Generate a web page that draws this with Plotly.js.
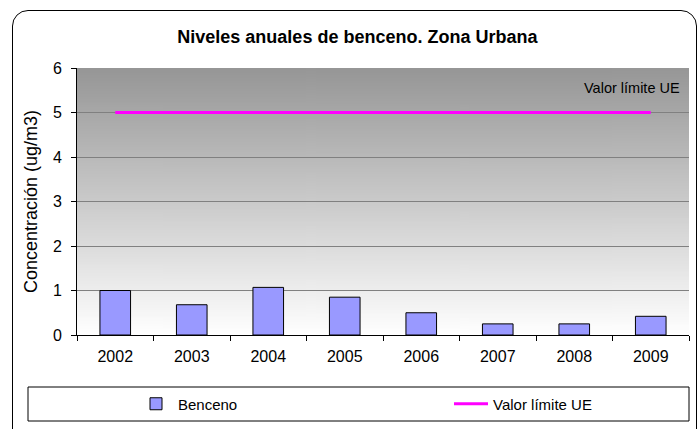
<!DOCTYPE html>
<html>
<head>
<meta charset="utf-8">
<script src="https://cdn.plot.ly/plotly-3.0.1.min.js"></script>
<style>
  html, body { margin: 0; padding: 0; background: #ffffff; }
  #wrap { position: relative; width: 698px; height: 429px; overflow: hidden; }
  #chart { position: absolute; left: 0; top: 0; width: 698px; height: 429px; }
  #frame { position: absolute; left: 12px; top: 10px; width: 685px; height: 440px;
           box-sizing: border-box; border: 1px solid #000; border-radius: 16px;
           pointer-events: none; }
</style>
</head>
<body>
<div id="wrap">
  <div id="chart"></div>
  <div id="frame"></div>
</div>
<script>
const years = ['2002', '2003', '2004', '2005', '2006', '2007', '2008', '2009'];
const benceno = [1.0, 0.68, 1.07, 0.85, 0.5, 0.25, 0.25, 0.42];
const limiteUE = [5, 5, 5, 5, 5, 5, 5, 5];
const seriesNames = ['Benceno', 'Valor límite UE'];
const titleText = 'Niveles anuales de benceno. Zona Urbana';
const yTitle = 'Concentración (ug/m3)';

// gradient background image for the plot area
const cv = document.createElement('canvas');
cv.width = 4; cv.height = 200;
const ctx = cv.getContext('2d');
const g = ctx.createLinearGradient(0, 0, 0, 200);
g.addColorStop(0, '#969696');
g.addColorStop(1, '#ffffff');
ctx.fillStyle = g;
ctx.fillRect(0, 0, 4, 200);
const bgUrl = cv.toDataURL('image/png');

const FONT = '"Liberation Sans", Arial, sans-serif';
const legendY = (335 - 404) / 267;

const traces = [
  {
    type: 'bar', name: seriesNames[0], x: years, y: benceno, width: 0.4,
    marker: { color: '#9999ff', line: { color: '#000000', width: 1 } },
    legend: 'legend'
  },
  {
    type: 'scatter', mode: 'lines', name: seriesNames[1], x: years, y: limiteUE,
    line: { color: '#ff00ff', width: 3 },
    legend: 'legend2'
  }
];

const legendCommon = {
  orientation: 'h', xanchor: 'left', y: legendY, yanchor: 'middle',
  bgcolor: 'rgba(0,0,0,0)', borderwidth: 0, font: { size: 15 }, itemwidth: 34
};

const layout = {
  width: 698, height: 429,
  margin: { l: 77, r: 9, t: 68, b: 94 },
  paper_bgcolor: '#ffffff',
  plot_bgcolor: 'rgba(0,0,0,0)',
  font: { family: FONT, color: '#000000', size: 15 },
  title: {
    text: '<b>' + titleText + '</b>',
    font: { family: FONT, size: 18, color: '#000000' },
    x: 0.512, xanchor: 'center', y: 1 - 37 / 429, yanchor: 'middle'
  },
  xaxis: {
    type: 'category', tickson: 'boundaries', ticks: 'outside', ticklen: 5,
    tickcolor: '#000000', showline: true, linecolor: '#000000', linewidth: 1,
    showgrid: false, tickfont: { size: 16 }, ticklabelstandoff: 7, fixedrange: true
  },
  yaxis: {
    range: [0, 6], dtick: 1, ticks: 'outside', ticklen: 5, tickcolor: '#000000',
    showline: true, linecolor: '#000000', linewidth: 1,
    showgrid: true, gridcolor: '#808080', gridwidth: 1, zeroline: false,
    tickfont: { size: 16 }, ticklabelstandoff: 6,
    title: { text: yTitle, font: { size: 18 }, standoff: 10 }
  },
  images: [{
    source: bgUrl, xref: 'paper', yref: 'paper', x: 0, y: 1, sizex: 1, sizey: 1,
    sizing: 'stretch', xanchor: 'left', yanchor: 'top', layer: 'below'
  }],
  shapes: [{
    type: 'rect', xref: 'paper', yref: 'paper',
    x0: (28 - 77) / 612, x1: 1.0, y0: (335 - 421) / 267, y1: (335 - 387) / 267,
    line: { color: '#000000', width: 1 }, fillcolor: 'rgba(0,0,0,0)'
  }],
  annotations: [{
    text: 'Valor límite UE', xref: 'paper', yref: 'y', x: 0.988, y: 5.55,
    xanchor: 'right', yanchor: 'middle', showarrow: false,
    font: { size: 14.5 }
  }],
  showlegend: true,
  legend: Object.assign({}, legendCommon, { x: (134 - 77) / 612 }),
  legend2: Object.assign({}, legendCommon, { x: (449 - 77) / 612 }),
  bargap: 0.6
};

Plotly.newPlot('chart', traces, layout, { displayModeBar: false, staticPlot: true });
</script>
</body>
</html>
